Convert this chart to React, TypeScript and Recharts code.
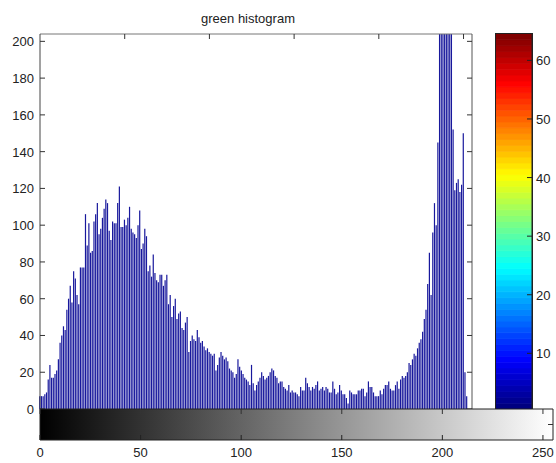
import React from "react";
import { BarChart, Bar, XAxis, YAxis, ComposedChart } from "recharts";

// green channel counts, bins 0..255 (values above 204 get clipped by the axes)
const counts = [
  7, 7, 7, 8, 9, 16, 24, 17, 17, 19,
  21, 27, 36, 40, 45, 43, 54, 60, 67, 58,
  75, 71, 62, 57, 77, 77, 77, 106, 89, 101,
  85, 86, 102, 106, 112, 95, 98, 104, 109, 114,
  112, 97, 92, 102, 101, 101, 112, 121, 99, 99,
  103, 100, 104, 110, 98, 96, 95, 93, 100, 108,
  87, 90, 98, 94, 75, 78, 72, 84, 74, 70,
  69, 73, 73, 67, 70, 73, 57, 62, 50, 56,
  60, 49, 52, 53, 44, 43, 47, 50, 31, 37,
  40, 38, 37, 43, 39, 36, 37, 34, 32, 33,
  31, 30, 29, 30, 21, 24, 28, 31, 29, 27,
  28, 26, 22, 21, 20, 17, 19, 27, 23, 21,
  19, 17, 16, 15, 13, 24, 14, 10, 13, 15,
  17, 20, 18, 16, 17, 18, 20, 22, 21, 18,
  17, 14, 15, 15, 12, 11, 10, 13, 9, 10,
  9, 9, 8, 7, 12, 10, 10, 17, 14, 12,
  10, 12, 11, 13, 15, 10, 11, 12, 10, 12,
  11, 9, 9, 15, 11, 8, 9, 13, 10, 8,
  8, 6, 3, 10, 9, 8, 8, 8, 10, 10,
  11, 11, 7, 9, 15, 12, 12, 9, 7, 7,
  7, 10, 8, 11, 13, 13, 15, 11, 10, 10,
  13, 15, 11, 16, 18, 17, 18, 20, 25, 24,
  27, 30, 29, 33, 36, 38, 42, 49, 54, 68,
  85, 62, 96, 112, 100, 145, 260, 340, 420, 380,
  300, 250, 230, 210, 152, 119, 123, 125, 118, 122,
  150, 20, 7, 0, 0, 0,
];

const histTicks = [0, 20, 40, 60, 80, 100, 120, 140, 160, 180, 200];
const stripTicks = [0, 50, 100, 150, 200, 250];
const colorbarTicks = [10, 20, 30, 40, 50, 60];
const colorLevels = 64;

const histData = counts.map((v, i) => ({ bin: i, count: v }));

// one stacked segment per colormap level
const levelKeys = Array.from({ length: colorLevels }, (_, i) => `l${i}`);
const colorbarData = [Object.fromEntries([["name", "cb"], ...levelKeys.map((k) => [k, 1])])];
const stripData = [{ name: "ramp", x: 0, v: 1 }];

const FONT = "'Liberation Sans', Arial, Helvetica, sans-serif";
const W = 556;
const H = 463;

// matlab jet colormap
function jet(i: number) {
  const x = i / (colorLevels - 1);
  const c = (v: number) => Math.round(Math.max(0, Math.min(1, v)) * 255);
  const r = c(1.5 - Math.abs(4 * x - 3));
  const g = c(1.5 - Math.abs(4 * x - 2));
  const b = c(1.5 - Math.abs(4 * x - 1));
  return `rgb(${r},${g},${b})`;
}

const LeftTick = (props: any) => {
  const { x, y, payload } = props;
  return (
    <g>
      <line x1={x + 6} x2={x + 11} y1={y} y2={y} stroke="#333" />
      <text x={x} y={y} dy={5} textAnchor="end" fontSize={13} fill="#222" fontFamily={FONT}>
        {payload.value}
      </text>
    </g>
  );
};

const TopTick = (props: any) => {
  const { x, y } = props;
  return <line x1={x} x2={x} y1={y} y2={y + 5} stroke="#333" />;
};

const RightTick = (props: any) => {
  const { x, y } = props;
  return <line x1={x - 5} x2={x} y1={y} y2={y} stroke="#333" />;
};

const ColorbarTick = (props: any) => {
  const { x, y, payload } = props;
  return (
    <g>
      <line x1={x - 9} x2={x - 4} y1={y} y2={y} stroke="#222" />
      <text x={x} y={y} dy={5} textAnchor="start" fontSize={13} fill="#222" fontFamily={FONT}>
        {payload.value}
      </text>
    </g>
  );
};

const StripTick = (props: any) => {
  const { x, y, payload } = props;
  return (
    <g>
      <line x1={x} x2={x} y1={y - 11} y2={y - 6} stroke="#222" />
      <text x={x} y={y} dy={11} textAnchor="middle" fontSize={13} fill="#222" fontFamily={FONT}>
        {payload.value}
      </text>
    </g>
  );
};

const layer: React.CSSProperties = { position: "absolute", left: 0, top: 0 };

export default function App() {
  return (
    <div style={{ position: "absolute", left: 0, top: 0, width: W, height: H, background: "#fff" }}>
      <div
        style={{
          position: "absolute",
          left: 148,
          top: 11,
          width: 200,
          textAlign: "center",
          fontSize: 13,
          lineHeight: "15px",
          fontFamily: FONT,
          color: "#222",
        }}
      >
        green histogram
      </div>

      {/* histogram axes */}
      <div style={layer}>
        <BarChart width={W} height={H} data={histData} margin={{ top: 33, left: 39, right: 83, bottom: 54 }}>
          <XAxis dataKey="bin" type="number" domain={[0, 255]} hide />
          <XAxis
            xAxisId="top"
            orientation="top"
            type="number"
            dataKey="bin"
            domain={[0, 255]}
            allowDataOverflow
            ticks={[50, 100, 150, 200, 250]}
            height={1}
            tickSize={0}
            tickMargin={0}
            tick={<TopTick />}
            axisLine={{ stroke: "#777" }}
          />
          <YAxis
            domain={[0, 204]}
            allowDataOverflow
            ticks={histTicks}
            width={1}
            tickSize={0}
            tickMargin={6}
            tick={<LeftTick />}
            axisLine={{ stroke: "#444" }}
          />
          <YAxis
            yAxisId="r"
            orientation="right"
            domain={[0, 204]}
            allowDataOverflow
            ticks={histTicks}
            width={1}
            tickSize={0}
            tickMargin={0}
            tick={<RightTick />}
            axisLine={{ stroke: "#555" }}
          />
          <Bar dataKey="count" fill="#18189c" barSize={1.2} isAnimationActive={false} />
        </BarChart>
      </div>

      {/* colorbar */}
      <div style={layer}>
        <BarChart
          width={W}
          height={H}
          data={colorbarData}
          barCategoryGap={0}
          margin={{ top: 34, left: 496, right: 23, bottom: 54 }}
        >
          <XAxis dataKey="name" hide />
          <YAxis yAxisId="bars" domain={[0, colorLevels]} allowDataOverflow hide />
          <YAxis
            yAxisId="lab"
            orientation="right"
            domain={[0.5, 64.5]}
            allowDataOverflow
            ticks={colorbarTicks}
            width={1}
            tickSize={0}
            tickMargin={4}
            tick={<ColorbarTick />}
            axisLine={{ stroke: "#222" }}
          />
          {levelKeys.map((k, i) => (
            <Bar
              key={k}
              dataKey={k}
              stackId="cb"
              yAxisId="bars"
              fill={jet(i)}
              stroke={jet(i)}
              strokeWidth={0.8}
              isAnimationActive={false}
            />
          ))}
        </BarChart>
      </div>
      <div
        style={{
          position: "absolute",
          left: 495,
          top: 33,
          width: 36,
          height: 375,
          border: "1px solid #222",
          pointerEvents: "none",
        }}
      />

      {/* grey level strip */}
      <div style={layer}>
        <ComposedChart
          width={W}
          height={H}
          data={stripData}
          barCategoryGap={0}
          margin={{ top: 408, left: 39, right: 2, bottom: 22 }}
        >
          <defs>
            <linearGradient id="greyRamp" x1="0" y1="0" x2="1" y2="0">
              <stop offset="0%" stopColor="#000" />
              <stop offset="100%" stopColor="#fff" />
            </linearGradient>
          </defs>
          <XAxis xAxisId="cat" dataKey="name" hide />
          <XAxis
            dataKey="x"
            type="number"
            domain={[0, 255]}
            allowDataOverflow
            ticks={stripTicks}
            height={1}
            tickSize={0}
            tickMargin={6}
            tick={<StripTick />}
            axisLine={{ stroke: "#222" }}
          />
          <XAxis
            xAxisId="top"
            orientation="top"
            dataKey="x"
            type="number"
            domain={[0, 255]}
            allowDataOverflow
            ticks={stripTicks}
            height={1}
            tickSize={0}
            tickMargin={0}
            tick={<TopTick />}
            axisLine={{ stroke: "#222" }}
          />
          <YAxis domain={[0, 1]} allowDataOverflow width={1} tick={false} tickLine={false} axisLine={{ stroke: "#222" }} />
          <YAxis
            yAxisId="r"
            orientation="right"
            domain={[0, 1]}
            allowDataOverflow
            ticks={[0.5]}
            width={1}
            tickSize={0}
            tickMargin={0}
            tick={<RightTick />}
            axisLine={{ stroke: "#222" }}
          />
          <Bar xAxisId="cat" dataKey="v" fill="url(#greyRamp)" isAnimationActive={false} />
        </ComposedChart>
      </div>
    </div>
  );
}
